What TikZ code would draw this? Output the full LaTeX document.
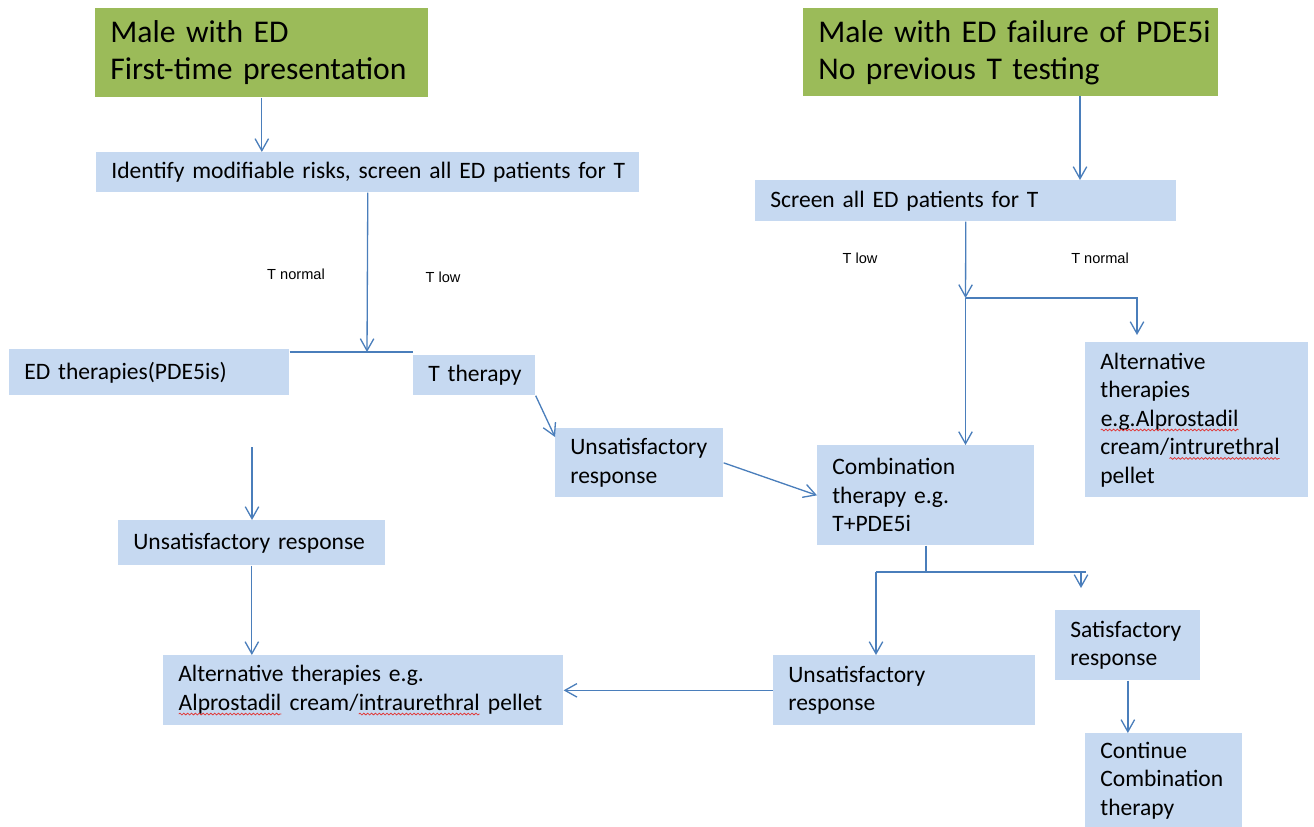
\documentclass[tikz,border=0pt]{standalone}
\usepackage{fontspec}
\setmainfont{Carlito}
\newfontfamily\lblfont{Liberation Sans}
\usetikzlibrary{arrows.meta,calc,decorations.pathmorphing}
\definecolor{gfill}{HTML}{9BBB59}
\definecolor{bfill}{HTML}{C6D9F1}
\definecolor{lcol}{HTML}{4A7EBB}
\definecolor{sqcol}{HTML}{E03A3A}
\newcommand\oneline[1]{\mbox{#1}}
\newcommand\wv[1]{\tikz[x=1cm,y=1cm,baseline=(w.base)]{\node[inner sep=0pt,outer sep=0pt,anchor=base,text width=,minimum width=0pt,minimum height=0pt] (w) {#1};
  \draw[sqcol, line width=0.45pt, decorate, decoration={snake, amplitude=0.5pt, segment length=2.2pt}] ([yshift=-2.2pt]w.base west) -- ([yshift=-2.2pt]w.base east);}}
\tikzset{
  gbox/.style={fill=gfill, anchor=north west, inner xsep=0.3cm, inner ysep=0pt, align=left,
    font=\fontsize{18}{21}\selectfont},
  bbox/.style={fill=bfill, anchor=north west, inner xsep=0.3cm, inner ysep=0pt, align=left,
    font=\fontsize{13.4}{16.2}\selectfont},
  lbl/.style={font=\lblfont\fontsize{8.3}{10}\selectfont, inner sep=0pt},
  conn/.style={draw=lcol, line width=0.75pt},
  arr/.style={conn, -{Straight Barb[length=0.24cm, width=0.27cm, line width=0.75pt]}},
}
\begin{document}
\begin{tikzpicture}[x=0.02cm, y=-0.02cm]
\useasboundingbox (0,0) rectangle (1314,827);
% green start boxes
\node[gbox, minimum width=6.66cm, minimum height=1.78cm, text width=6.06cm] (G1) at (95,8)
  {\oneline{Male with ED}\\\oneline{First-time presentation}};
\node[gbox, minimum width=8.30cm, minimum height=1.76cm, text width=7.70cm] (G2) at (803,8)
  {\oneline{Male with ED\ failure of PDE5i}\\\oneline{No previous T testing}};
% blue boxes
\node[bbox, minimum width=10.86cm, minimum height=0.80cm, text width=10.26cm] (B3) at (96,152)
  {\oneline{Identify modifiable risks, screen all ED patients for T}};
\node[bbox, minimum width=8.42cm, minimum height=0.82cm, text width=7.82cm] (B4) at (755,180)
  {\oneline{Screen all ED patients for T}};
\node[bbox, minimum width=5.60cm, minimum height=0.92cm, text width=5.00cm] (B5) at (9,349)
  {\oneline{ED therapies(PDE5is)}};
\node[bbox, minimum width=2.44cm, minimum height=0.80cm, text width=1.84cm] (B6) at (413,355)
  {\oneline{T therapy}};
\node[bbox, minimum width=3.36cm, minimum height=1.38cm, text width=2.76cm] (B7) at (555,428)
  {\oneline{Unsatisfactory}\\\oneline{response}};
\node[bbox, minimum width=4.34cm, minimum height=2.00cm, text width=3.74cm] (B8) at (817,445)
  {\oneline{Combination}\\\oneline{therapy e.g.}\\\oneline{T+PDE5i}};
\node[bbox, minimum width=4.46cm, minimum height=3.10cm, text width=3.86cm] (B9) at (1085,342)
  {\oneline{Alternative}\\\oneline{therapies}\\\oneline{\wv{e.g.Alprostadil}}\\\oneline{cream/\wv{intrurethral}}\\\oneline{pellet}};
\node[bbox, minimum width=5.34cm, minimum height=0.90cm, text width=4.74cm] (B10) at (118,520)
  {\oneline{Unsatisfactory response}};
\node[bbox, minimum width=8.00cm, minimum height=1.40cm, text width=7.40cm] (B11) at (163,655)
  {\oneline{Alternative therapies e.g.}\\\oneline{\wv{Alprostadil} cream/\wv{intraurethral} pellet}};
\node[bbox, minimum width=5.24cm, minimum height=1.40cm, text width=4.64cm] (B12) at (773,655)
  {\oneline{Unsatisfactory}\\\oneline{response}};
\node[bbox, minimum width=2.90cm, minimum height=1.40cm, text width=2.30cm] (B13) at (1055,610)
  {\oneline{Satisfactory}\\\oneline{response}};
\node[bbox, minimum width=3.14cm, minimum height=1.88cm, text width=2.54cm] (B14) at (1085,733)
  {\oneline{Continue}\\\oneline{Combination}\\\oneline{therapy}};
% labels
\node[lbl] (L1) at (296,274) {T normal};
\node[lbl] (L2) at (443,277) {T low};
\node[lbl] (L3) at (860,258) {T low};
\node[lbl] (L4) at (1100,258) {T normal};
% coordinates
\coordinate (j1) at (367,352);
\coordinate (c1) at (252,447);
\coordinate (g2out) at (1080,96);
\coordinate (j2) at (965.5,298);
\coordinate (j3) at (1137,335);
\coordinate (jl) at (876,572);
\coordinate (jr) at (1086,572);
\coordinate (ra) at (1081,572);
\coordinate (rb) at (1081,588);
% connectors left
\draw[arr] (G1.south) -- (G1.south |- B3.north);
\draw[arr] (B3.south) -- (j1);
\draw[conn] (j1 -| B5.east) -- (j1 -| B6.west);
\draw[arr] (B6.south east) -- ($(B7.north west)+(0,9)$);
\draw[arr] (c1) -- (c1 |- B10.north);
\draw[arr] (B10.south) -- (B10.south |- B11.north);
\draw[arr] (B7.east) -- (B8.west);
% connectors right
\draw[arr] (g2out) -- (g2out |- B4.north);
\draw[arr] (B4.south) -- (j2);
\draw[arr] (j2) -- (j2 |- B8.north);
\draw[arr] (j2) -| (j3);
\draw[conn] (B8.south) -- (B8.south |- jl);
\draw[conn] (jl) -- (jr);
\draw[arr] (ra) -- (rb);
\draw[arr] (jl) -- (jl |- B12.north);
\draw[arr] (B13.south) -- (B13.south |- B14.north);
\draw[arr] (B12.west) -- (B11.east);
\end{tikzpicture}
\end{document}
